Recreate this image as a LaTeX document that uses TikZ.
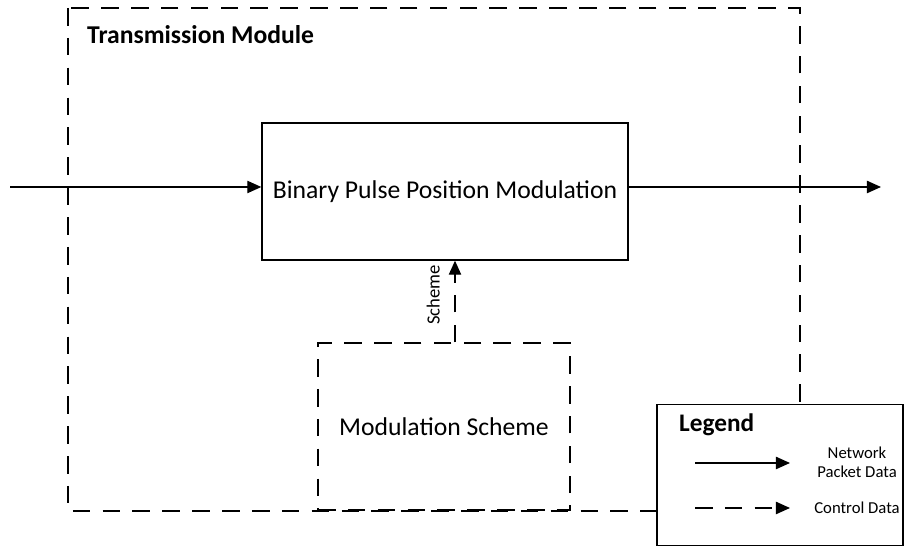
\documentclass[tikz,border=0pt]{standalone}
\usepackage{fontspec}
\setmainfont{Carlito}
\usetikzlibrary{arrows.meta}
\usetikzlibrary{calc}

\begin{document}
\begin{tikzpicture}[x={(0.02cm,0)},y={(0,-0.02cm)},
    flow/.style={-{Triangle[length=8pt,width=7pt]},line width=0.8pt},
    ctrl/.style={-{Triangle[length=8pt,width=7pt]},line width=0.8pt,dash pattern=on 10pt off 7pt},
    block/.style={draw=black,line width=0.8pt,fill=white,font=\fontsize{14.6}{17}\selectfont}]

\useasboundingbox (0,0) rectangle (904,546);

% transmission module frame
\draw[line width=0.8pt,dash pattern=on 10pt off 7pt] (68,8) rectangle (800,511);
\node[anchor=west,font=\fontsize{14.6}{17}\selectfont\bfseries] (tm) at (81,35) {Transmission Module};

\node[block, minimum width=7.32cm, minimum height=2.74cm] (bp) at (445,191.5) {Binary Pulse Position Modulation};
\node[block, dash pattern=on 10pt off 7pt, minimum width=5.04cm, minimum height=3.34cm] (ms) at (444,426.5) {Modulation Scheme};

\coordinate (in) at (10,187);
\coordinate (out) at (881,187);

\draw[flow] (in) -- (in -| bp.west);
\draw[flow] (bp.east |- out) -- (out);
\draw[ctrl] (ms.north -| 455,0) -- (bp.south -| 455,0) node[pos=0.58,above=5pt,sloped,font=\fontsize{10.6}{12}\selectfont] {Scheme};

% legend
\node[draw=black,line width=0.8pt,fill=white,minimum width=4.92cm,minimum height=2.82cm] (lg) at (780,475) {};
\node[anchor=west,font=\fontsize{14.4}{17}\selectfont\bfseries] (lgt) at (673,425) {Legend};
\coordinate (la) at (695,463);
\coordinate (lb) at (790,463);
\coordinate (lc) at (695,508);
\coordinate (ld) at (790,508);
\draw[flow] (la) -- (lb);
\draw[ctrl] (lc) -- (ld);
\node[align=center,font=\fontsize{9.5}{11}\selectfont] (lnp) at (857,462) {Network\\Packet Data};
\node[font=\fontsize{9.5}{11}\selectfont] (lcd) at (857,508) {Control Data};

\end{tikzpicture}
\end{document}
